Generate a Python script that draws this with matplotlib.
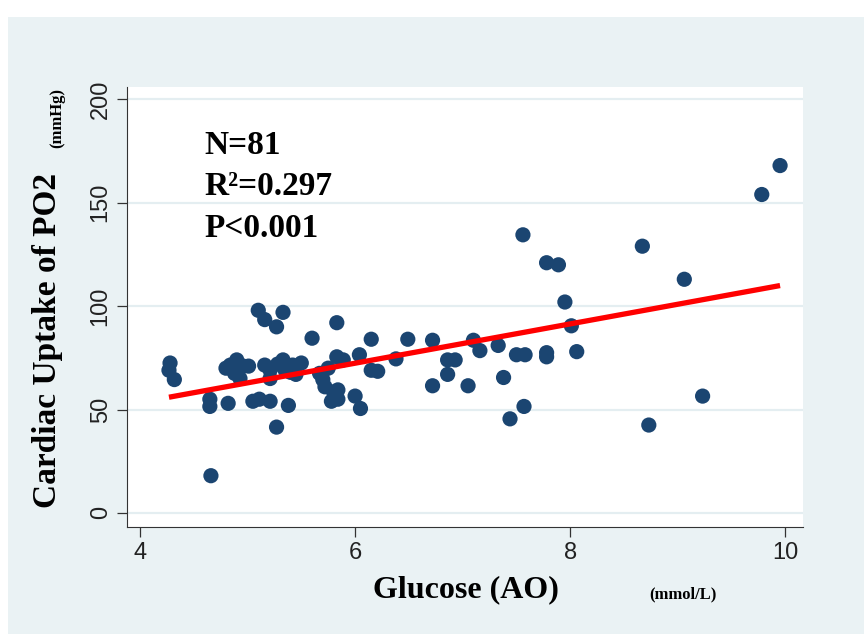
import numpy as np
import matplotlib.pyplot as plt
from matplotlib.patches import Rectangle

# glucose (AO), mmol/L
glucose = [4.28, 4.27, 4.32, 4.66, 4.65, 4.65, 4.82, 4.84, 4.90, 4.96,
           5.01, 4.88, 4.93, 5.05, 5.11, 5.10, 5.16, 5.27, 5.33, 5.16,
           5.21, 5.33, 5.35, 5.42, 5.21, 5.21, 5.38, 5.27, 5.50, 5.40,
           5.60, 5.83, 6.15, 6.49, 6.72, 5.83, 5.89, 6.04, 6.15, 6.21,
           6.38, 5.67, 5.70, 5.72, 5.80, 5.84, 5.78, 5.84, 6.00, 6.05,
           6.72, 6.86, 6.86, 6.93, 7.05, 7.10, 7.16, 7.33, 7.38, 7.44,
           7.57, 7.50, 7.58, 7.78, 7.95, 8.01, 8.06, 7.56, 7.78, 7.89,
           8.67, 9.06, 9.78, 9.95, 9.23, 8.73, 4.80, 5.28, 5.45, 5.75,
           7.78]
# cardiac uptake of PO2, mmHg
po2 = [72.5, 69, 64.5, 18, 55, 51.5, 53, 71.5, 74, 71,
       71, 67.5, 65, 54, 55, 98, 93.5, 90, 97, 71.5,
       69, 74, 69, 71.5, 65, 54, 52, 41.5, 72.5, 68,
       84.5, 92, 84, 84, 83.5, 75.5, 74, 76.5, 69, 68.5,
       74.5, 67.5, 64.5, 61, 58.5, 59.5, 54, 55, 56.5, 50.5,
       61.5, 74, 67, 74, 61.5, 83.5, 78.5, 81, 65.5, 45.5,
       51.5, 76.5, 76.5, 75.5, 102, 90.5, 78, 134.5, 121, 120,
       129, 113, 154, 168, 56.5, 42.5, 70, 72, 67, 70,
       77.5]

x = np.array(glucose)
y = np.array(po2)
slope, icpt = np.polyfit(x, y, 1)
xf = np.array([x.min(), x.max()])

plt.rcParams['font.family'] = ['Liberation Sans', 'DejaVu Sans']

fig = plt.figure(figsize=(8.64, 6.34), dpi=100, facecolor='white')
#light panel behind the plot, white border top/left
fig.patches.append(Rectangle((8/864, 0), 1, (634-17)/634, transform=fig.transFigure,
                             facecolor='#eaf2f4', edgecolor='none', zorder=-10))

ax = fig.add_axes([0.147, 0.1688, 0.782, 0.694])
ax.set_facecolor('white')
ax.set_xlim(3.88, 10.16)
ax.set_ylim(-6.8, 206)
ax.set_xticks([4, 6, 8, 10])
ax.set_yticks([0, 50, 100, 150, 200])
for v in [0, 50, 100, 150, 200]:
    ax.axhline(v, color='#e4eef1', lw=1.6, zorder=1)

ax.scatter(x, y, s=120, color='#1b4571', edgecolors='none', zorder=3)
ax.plot(xf, icpt + slope*xf, color='#ff0000', lw=3.8, zorder=4, solid_capstyle='butt')

ax.spines['top'].set_visible(False)
ax.spines['right'].set_visible(False)
ax.spines['left'].set_color('#333333')
ax.spines['bottom'].set_color('#333333')
ax.tick_params(direction='out', length=7, width=0.9, colors='#333333', labelsize=17, pad=4)
ax.tick_params(axis='x', labelcolor='#222222')
for lab in ax.get_yticklabels():
    lab.set_rotation(90)
    lab.set_va('center')
ax.tick_params(axis='y', labelcolor='#222222')

serif = ['Liberation Serif', 'DejaVu Serif']
ax.text(0.115, 0.868, 'N=81', transform=ax.transAxes, family=serif, weight='bold', fontsize=24, va='center')
ax.text(0.115, 0.773, 'R²=0.297', transform=ax.transAxes, family=serif, weight='bold', fontsize=24, va='center')
ax.text(0.115, 0.678, 'P<0.001', transform=ax.transAxes, family=serif, weight='bold', fontsize=24, va='center')

fig.text(466/864, 1-590/634, 'Glucose (AO)', family=serif, weight='bold', fontsize=23, ha='center', va='center')
fig.text(683/864, 1-594/634, '(mmol/L)', family=serif, weight='bold', fontsize=12, ha='center', va='center')
fig.text(48/864, 1-340/634, 'Cardiac Uptake of PO2', family=serif, weight='bold', fontsize=24, rotation=90, ha='center', va='center')
fig.text(57/864, 1-118/634, '(mmHg)', family=serif, weight='bold', fontsize=12, rotation=90, ha='center', va='center')

fig.savefig('out.png', dpi=100, facecolor='white')
